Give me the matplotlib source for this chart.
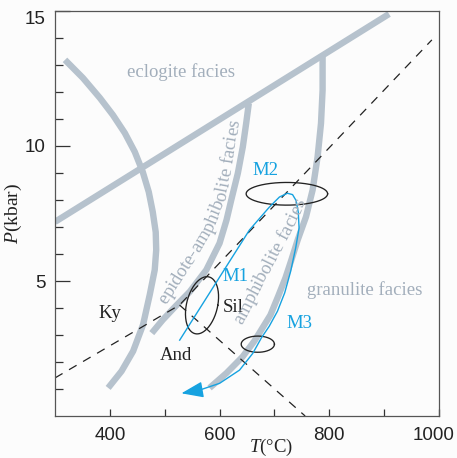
import numpy as np
import matplotlib
matplotlib.use("Agg")
import matplotlib.pyplot as plt
import matplotlib.transforms as mtransforms
from matplotlib.font_manager import FontProperties

plt.rcParams['font.family'] = ['Liberation Sans', 'DejaVu Sans']
plt.rcParams['mathtext.fontset'] = 'custom'
plt.rcParams['mathtext.rm'] = 'Liberation Serif'
plt.rcParams['mathtext.it'] = 'Liberation Serif:italic'

# ---------------- data ----------------
x_major = [400, 600, 800, 1000]
x_minor = [500, 700, 900]
y_major = [5, 10, 15]
y_minor = [1, 2, 3, 4, 6, 7, 8, 9, 11, 12, 13, 14]

eclogite_T = [300, 909]
eclogite_P = [7.19, 14.89]

blueschist_T = [318.2, 350.9, 381.8, 405.5, 427.3, 445.5, 460.0, 470.9, 478.2,
                483.6, 484.5, 481.8, 472.7, 460.5, 442.4, 421.3, 396.9]
blueschist_P = [13.19, 12.52, 11.78, 11.15, 10.48, 9.78, 9.04, 8.30, 7.56,
                6.81, 6.15, 5.41, 4.49, 3.38, 2.40, 1.66, 1.04]

epidote_T = [653.3, 648.5, 642.4, 633.3, 621.3, 612.7, 600.0, 575.8, 545.5,
             520.0, 496.4, 476.4]
epidote_P = [11.58, 10.84, 9.97, 8.99, 8.00, 7.26, 6.40, 5.41, 4.60,
             4.07, 3.56, 3.07]

granulite_T = [787.8, 787.8, 784.9, 778.7, 769.6, 757.6, 742.4, 730.9, 720.0,
               706.7, 692.7, 663.6, 641.8, 612.7, 581.8]
granulite_P = [13.3, 12.07, 10.84, 9.60, 8.37, 7.38, 6.52, 5.78, 5.11,
               4.43, 3.74, 2.78, 2.19, 1.59, 1.04]

ky_sil_T = [300, 527, 987]
ky_sil_P = [1.41, 4.11, 13.93]
and_sil_T = [527, 756]
and_sil_P = [4.11, 0.0]

path_T = [527.3, 654.5, 690.9, 709.1, 723.6, 733.0, 739.5, 743.5, 744.9, 738.7,
          729.6, 718.7, 705.5, 690.4, 676.4, 660.5, 636.4, 600.0, 563.6]
path_P = [2.81, 6.89, 7.74, 8.11, 8.25, 8.20, 7.98, 7.55, 6.96, 6.22,
          5.36, 4.56, 3.88, 3.32, 2.90, 2.32, 1.70, 1.21, 0.96]
arrow_tip = (530.4, 0.84)

# ellipses: name, centre T, centre P, width (degC), height (kbar), lean (degC)
ellipses = [("M1", 568.0, 4.10, 57.6, 2.12, 9.0),
            ("M2", 722.7, 8.23, 148.5, 0.84, 0.0),
            ("M3", 669.7, 2.66, 60.6, 0.60, 0.0)]

facies_labels = [("eclogite facies", 529, 12.74),
                 ("granulite facies", 864.5, 4.67)]
mineral_labels = [("Ky", 400, 3.78), ("Sil", 624, 4.02), ("And", 520, 2.24)]
stage_labels = [("M1", 629, 5.15), ("M2", 683.6, 9.1), ("M3", 746, 3.44)]

epidote_text_T = [492.7, 529.1, 560.0, 581.8, 603.6, 612.7, 620.0, 630.9]
epidote_text_P = [4.04, 5.22, 6.22, 6.96, 8.00, 8.93, 9.85, 11.11]
amph_text_T = [632.7, 654.5, 672.7, 690.9, 707.3, 721.8, 734.5, 752.7]
amph_text_P = [3.33, 4.19, 4.89, 5.59, 6.26, 6.81, 7.33, 8.11]

# ---------------- style ----------------
GRAY = '#b6c2cd'
GRAY_TXT = '#a2aebb'
BLUE = '#16a2e0'
DARK = '#222222'
SERIF = 'Liberation Serif'
FS = 13.5

fig = plt.figure(figsize=(4.57, 4.58), dpi=100, facecolor='#fcfcfc')
ax = fig.add_axes([55 / 457, 1 - 416 / 458, 384 / 457, 405 / 458])
ax.set_facecolor('#fcfcfc')
ax.set_xlim(300, 1000)
ax.set_ylim(0, 15)

# facies boundaries
for T, P in [(eclogite_T, eclogite_P), (blueschist_T, blueschist_P),
             (epidote_T, epidote_P), (granulite_T, granulite_P)]:
    ax.plot(T, P, color=GRAY, lw=4.6, solid_capstyle='butt',
            solid_joinstyle='round', zorder=1)

# aluminosilicate reactions
ax.plot(ky_sil_T, ky_sil_P, color='#222222', lw=0.9, ls=(0, (7, 6)), zorder=2)
ax.plot(and_sil_T, and_sil_P, color='#222222', lw=0.9, ls=(0, (7, 6)), zorder=2)

# ellipses
t = np.linspace(0, 2 * np.pi, 200)
for name, tc, pc, w, h, lean in ellipses:
    ax.plot(tc + 0.5 * w * np.cos(t) + lean * np.sin(t), pc + 0.5 * h * np.sin(t),
            color='#222222', lw=0.95, zorder=3)

# P-T path
ax.plot(path_T, path_P, color=BLUE, lw=1.0, zorder=4, solid_joinstyle='round')
ax.annotate('', xy=arrow_tip, xytext=(path_T[-1], path_P[-1]),
            arrowprops=dict(arrowstyle='-|>,head_length=0.9,head_width=0.33',
                            color=BLUE, lw=1.0, mutation_scale=15,
                            shrinkA=0, shrinkB=0), zorder=4)

# labels
for s, x, y in facies_labels:
    ax.text(x, y, s, family=SERIF, fontsize=FS, color=GRAY_TXT,
            ha='center', va='center', zorder=5)
for s, x, y in mineral_labels:
    ax.text(x, y, s, family=SERIF, fontsize=FS, color=DARK,
            ha='center', va='center', zorder=5)
for s, x, y in stage_labels:
    ax.text(x, y, s, family=SERIF, fontsize=FS, color=BLUE,
            ha='center', va='center', zorder=5)


def text_along(ax, s, T, P, size, color, offset_px=4.0):
    r = ax.figure.canvas.get_renderer()
    fp = FontProperties(family=SERIF, size=size)
    pts = ax.transData.transform(np.column_stack([T, P]))
    seg = np.diff(pts, axis=0)
    L = np.hypot(seg[:, 0], seg[:, 1])
    cum = np.concatenate([[0.0], np.cumsum(L)])
    adv = [0.0]
    for i in range(1, len(s) + 1):
        w, _, _ = r.get_text_width_height_descent(s[:i], fp, ismath=False)
        adv.append(w)
    start = (cum[-1] - adv[-1]) / 2.0
    inv = ax.transData.inverted()
    for i, ch in enumerate(s):
        if ch == ' ':
            continue
        m = start + 0.5 * (adv[i] + adv[i + 1])
        k = int(np.clip(np.searchsorted(cum, m) - 1, 0, len(L) - 1))
        f = (m - cum[k]) / L[k]
        p = pts[k] + f * seg[k]
        ang = np.arctan2(seg[k, 1], seg[k, 0])
        base = p + offset_px * np.array([np.sin(ang), -np.cos(ang)])
        x, y = inv.transform(base)
        ax.text(x, y, ch, fontproperties=fp, color=color,
                rotation=np.degrees(ang), rotation_mode='anchor',
                ha='center', va='baseline', zorder=5)


text_along(ax, 'epidote-amphibolite facies', epidote_text_T, epidote_text_P,
           FS, GRAY_TXT)
text_along(ax, 'amphibolite facies', amph_text_T, amph_text_P, FS, GRAY_TXT)

# axes styling
for sp in ax.spines.values():
    sp.set_color('#555555')
    sp.set_linewidth(0.9)
ax.set_xticks(x_major)
ax.set_xticks(x_minor, minor=True)
ax.set_yticks(y_major)
ax.set_yticks(y_minor, minor=True)
ax.tick_params(axis='x', which='both', direction='in', length=5, width=0.9,
               color='#333333', labelsize=FS, pad=8, labelcolor='#222222')
ax.tick_params(axis='y', which='major', direction='in', length=10.8, width=0.9,
               color='#333333', labelsize=FS, pad=7, labelcolor='#222222')
ax.tick_params(axis='y', which='minor', direction='in', length=5.8, width=0.9,
               color='#333333')

# nudge edge labels so they stay inside the picture (as in the reference)
fig.canvas.draw()
xl = ax.get_xticklabels()
xl[-1].set_transform(xl[-1].get_transform() +
                     mtransforms.ScaledTranslation(-4 / 72, 0, fig.dpi_scale_trans))
yl = ax.get_yticklabels()
yl[-1].set_transform(yl[-1].get_transform() +
                     mtransforms.ScaledTranslation(0, -5 / 72, fig.dpi_scale_trans))

ax.set_xlabel('$T$(\u00b0C)', fontsize=FS, family=SERIF, color='#222222', va='center')
ax.xaxis.set_label_coords(0.5625, -0.077)
ax.set_ylabel('$P$(kbar)', fontsize=14, family=SERIF, color='#222222', va='center')
ax.yaxis.set_label_coords(-0.107, 0.5)

fig.savefig('out.png', dpi=100, facecolor=fig.get_facecolor())
